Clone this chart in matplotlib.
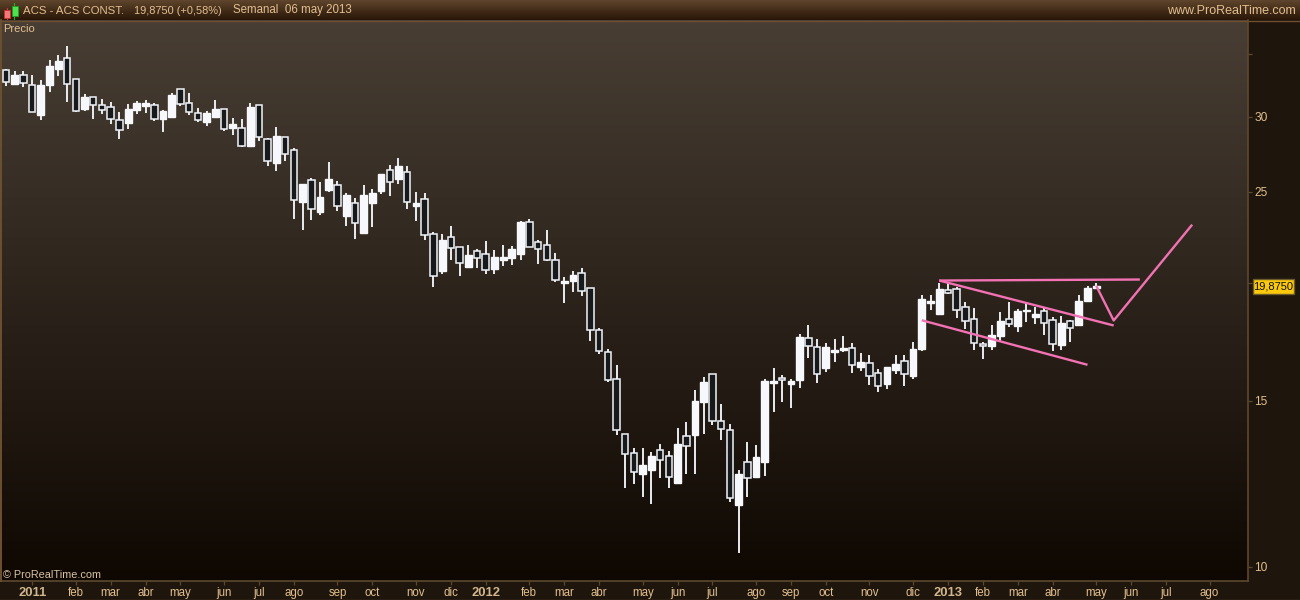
#%%
# ACS weekly candles, ProRealTime look
import numpy as np
import matplotlib
matplotlib.use('Agg')
import matplotlib.pyplot as plt
from matplotlib.patches import Rectangle

plt.rcParams['font.family'] = ['Liberation Sans', 'DejaVu Sans']

#%%
# weekly prices, oldest first
opens = [33.62, 32.51, 33.22, 32.41, 30.16, 32.44, 33.73, 34.61, 32.89, 30.58,
         31.47, 30.85, 30.71, 29.76, 29.56, 30.51, 30.81, 30.85, 29.85, 30.00,
         32.09, 31.00, 30.26, 29.63, 30.00, 30.56, 29.20, 29.18, 27.94, 30.85,
         28.41, 26.81, 28.55, 27.66, 24.38, 25.70, 23.79, 25.10, 25.39, 23.56,
         24.30, 22.60, 24.32, 25.04, 26.34, 25.78, 26.21, 24.15, 24.54, 22.53,
         20.60, 22.37, 21.82, 20.80, 21.61, 21.45, 20.70, 21.16, 21.26, 21.47,
         23.20, 22.10, 21.93, 21.14, 20.00, 20.10, 20.48, 19.75, 17.83, 16.90,
         15.82, 13.83, 13.20, 12.56, 12.68, 13.30, 13.11, 12.28, 13.77, 13.81,
         14.97, 16.01, 14.27, 13.97, 11.64, 12.92, 12.46, 12.93, 15.67, 15.86,
         15.63, 15.79, 17.48, 17.10, 16.26, 16.91, 16.98, 17.06, 16.30, 16.45,
         16.05, 15.63, 16.18, 16.53, 15.94, 17.03, 19.05, 18.55, 19.65, 19.70,
         18.85, 18.31, 17.24, 17.16, 17.58, 18.31, 18.02, 18.67, 18.41, 18.67,
         18.27, 17.20, 18.22, 18.06, 19.14, 19.78]
highs = [33.73, 33.57, 33.57, 33.24, 32.83, 34.47, 34.89, 35.67, 32.89, 31.73,
         31.47, 31.34, 31.11, 30.36, 30.96, 31.18, 31.26, 31.03, 30.51, 31.81,
         32.12, 31.81, 30.66, 30.43, 31.26, 30.58, 29.93, 29.85, 31.03, 30.85,
         28.50, 29.27, 28.55, 27.80, 25.47, 25.83, 25.58, 26.88, 25.66, 24.92,
         24.62, 25.41, 25.16, 26.10, 26.68, 27.14, 26.62, 24.98, 24.92, 22.66,
         22.55, 22.99, 21.82, 21.95, 21.73, 22.17, 21.68, 21.95, 21.90, 23.27,
         23.39, 22.22, 22.77, 21.52, 20.30, 20.60, 20.75, 19.77, 17.93, 17.03,
         16.38, 13.83, 13.38, 13.38, 13.25, 13.51, 13.28, 14.05, 14.25, 15.41,
         15.90, 16.01, 14.89, 14.18, 12.68, 13.57, 13.47, 15.83, 16.26, 15.98,
         15.83, 17.67, 18.06, 17.45, 17.28, 17.45, 17.58, 17.28, 16.87, 16.79,
         16.22, 16.30, 16.79, 16.79, 17.33, 19.43, 19.43, 20.00, 20.00, 19.81,
         19.10, 18.82, 17.33, 18.06, 18.64, 19.10, 18.78, 19.05, 18.87, 18.82,
         18.41, 18.46, 18.28, 19.43, 19.86, 20.00]
lows = [32.36, 32.44, 32.28, 30.38, 29.78, 31.88, 33.15, 31.11, 30.36, 30.43,
        29.85, 30.22, 29.49, 28.43, 29.13, 30.22, 30.29, 29.71, 28.92, 29.93,
        30.81, 30.16, 29.63, 29.34, 30.00, 28.99, 28.71, 27.88, 27.88, 28.29,
        26.61, 26.30, 26.95, 23.39, 22.77, 23.33, 23.62, 24.98, 23.85, 22.99,
        22.27, 22.60, 22.94, 24.86, 24.74, 25.47, 23.97, 23.27, 22.22, 19.81,
        20.45, 21.16, 20.35, 20.75, 20.75, 20.45, 20.45, 20.85, 20.90, 21.16,
        21.84, 20.95, 21.10, 20.05, 19.05, 19.57, 19.38, 17.37, 16.83, 15.71,
        13.81, 12.13, 12.25, 11.87, 11.66, 12.43, 12.13, 12.25, 12.56, 12.56,
        13.85, 14.15, 13.64, 11.72, 10.35, 11.87, 12.43, 12.50, 14.61, 14.97,
        14.75, 15.49, 16.66, 15.67, 16.10, 16.50, 16.91, 16.06, 16.14, 15.60,
        15.34, 15.45, 16.02, 15.56, 15.83, 16.95, 18.73, 18.55, 19.48, 18.37,
        17.88, 16.99, 16.62, 16.99, 17.33, 17.97, 17.75, 18.19, 18.10, 17.62,
        16.95, 16.99, 17.33, 18.06, 19.14, 19.77]
closes = [32.69, 33.24, 32.62, 30.38, 32.44, 33.97, 34.39, 32.53, 30.46, 31.49,
          30.90, 30.53, 29.87, 29.08, 30.58, 31.03, 31.03, 29.85, 30.43, 31.65,
          30.96, 30.38, 29.80, 30.26, 30.58, 29.13, 29.49, 27.97, 30.73, 28.58,
          26.96, 28.64, 27.43, 24.52, 25.47, 23.93, 24.68, 25.78, 24.15, 24.80,
          23.18, 24.80, 24.92, 26.10, 25.61, 26.62, 24.40, 24.32, 22.51, 20.36,
          22.22, 21.80, 21.02, 21.42, 21.28, 20.66, 21.32, 21.32, 21.73, 23.22,
          21.85, 21.75, 21.18, 20.17, 20.10, 20.40, 19.63, 17.85, 16.96, 15.80,
          13.96, 13.19, 12.60, 12.83, 13.12, 12.97, 12.47, 13.51, 13.42, 15.00,
          15.71, 14.29, 13.99, 11.82, 12.56, 12.44, 13.09, 15.75, 15.75, 15.78,
          15.74, 17.54, 17.17, 16.00, 17.11, 16.99, 17.07, 16.38, 16.50, 15.94,
          15.56, 16.30, 16.42, 16.02, 17.03, 19.24, 19.14, 19.72, 19.54, 18.72,
          18.22, 17.27, 17.13, 17.62, 18.24, 18.10, 18.69, 18.73, 18.55, 18.16,
          17.24, 18.15, 17.94, 19.14, 19.77, 19.875]

# x axis: week number of each label
month_weeks = [3, 8, 12, 16, 20, 25, 29, 33, 38, 42, 47, 51, 55, 60, 64, 68, 73, 77,
               81, 86, 90, 94, 99, 104, 108, 112, 116, 120, 125, 129, 133, 138]
month_names = ['2011', 'feb', 'mar', 'abr', 'may', 'jun', 'jul', 'ago', 'sep', 'oct',
               'nov', 'dic', '2012', 'feb', 'mar', 'abr', 'may', 'jun', 'jul', 'ago',
               'sep', 'oct', 'nov', 'dic', '2013', 'feb', 'mar', 'abr', 'may', 'jun',
               'jul', 'ago']
price_ticks = [10, 15, 20, 25, 30, 35]
price_labels = ['10', '15', '', '25', '30', '']

# hand drawn lines: (weeks, prices)
line_flat = ([107, 130], [20.12, 20.17])
line_upper = ([107, 127], [20.12, 18.03])
line_lower = ([105, 124], [18.26, 16.38])
line_move = ([125, 127, 136], [19.86, 18.25, 23.06])

#%%
BG_RIGHT = '#1e150c'
TXT = '#e2bf90'
EDGE = '#5c482f'
PINK = '#f272b4'

fig = plt.figure(figsize=(13, 6), dpi=100, facecolor=BG_RIGHT)

def px_axes(x0, y0, x1, y1, **kw):
    # axes from pixel box, y measured from the top
    return fig.add_axes([x0 / 1300, 1 - y1 / 600, (x1 - x0) / 1300, (y1 - y0) / 600], **kw)

# header band
hd = px_axes(0, 0, 1300, 20)
hd.imshow(np.linspace(0, 1, 20).reshape(-1, 1, 1) * np.array([[[0x2a - 0x5e, 0x17 - 0x44, 0x08 - 0x2b]]]) / 255
          + np.array([[[0x5e, 0x44, 0x2b]]]) / 255, aspect='auto')
hd.axis('off')

# plot background
bg = px_axes(2, 20, 1248, 581)
bg.imshow(np.linspace(0, 1, 256).reshape(-1, 1, 1) * np.array([[[0x0f - 0x48, 0x08 - 0x3e, 0x02 - 0x34]]]) / 255
          + np.array([[[0x48, 0x3e, 0x34]]]) / 255, aspect='auto')
bg.axis('off')

ax = px_axes(2, 20, 1248, 581, facecolor='none')
ax.set_yscale('log')
ax.set_xlim(-0.46, 142.4)
ax.set_ylim(9.664, 38.0)

#%%
# candles
weeks = np.arange(len(closes))
o = np.array(opens)
c = np.array(closes)
up = c >= o
ax.vlines(weeks, lows, highs, color='#f0f4fa', lw=1.35, zorder=2)
body_lo = np.minimum(o, c)
body_hi = np.maximum(o, c)
ax.bar(weeks[up], body_hi[up] - body_lo[up], bottom=body_lo[up], width=0.78,
       color='#f6f8fb', edgecolor='#f6f8fb', lw=1.0, zorder=3)
ax.bar(weeks[~up], body_hi[~up] - body_lo[~up], bottom=body_lo[~up], width=0.74,
       color='#17191b', edgecolor='#f0f4fa', lw=1.1, zorder=3)

# hand drawn lines
for xs, ys in [line_flat, line_upper, line_lower, line_move]:
    ax.plot(xs, ys, color=PINK, lw=1.7, zorder=4, solid_capstyle='butt')

#%%
# axes
for s in ['top', 'left']:
    ax.spines[s].set_visible(False)
for s in ['right', 'bottom']:
    ax.spines[s].set_color(EDGE)
    ax.spines[s].set_linewidth(1.2)

ax.yaxis.tick_right()
ax.set_yticks(price_ticks)
ax.set_yticklabels(price_labels)
ax.minorticks_off()
ax.tick_params(axis='y', which='major', length=3, width=0.9, color=EDGE, labelcolor=TXT,
               labelsize=8.6, pad=1.5)
ax.set_xticks(month_weeks)
ax.set_xticklabels(month_names)
ax.tick_params(axis='x', length=3, width=0.9, color=EDGE, labelcolor=TXT, labelsize=8.3, pad=1)
for lab in ax.get_xticklabels():
    if lab.get_text().startswith('20'):
        lab.set_fontweight('bold')
        lab.set_fontsize(9.4)
        lab.set_color('#d2b78e')

#%%
# texts in pixel positions
def px_text(x, y, s, **kw):
    fig.text(x / 1300, 1 - y / 600, s, va='center', **kw)

px_text(23, 10.5, 'ACS - ACS CONST.', fontsize=8.2, color=TXT)
px_text(134, 10.5, '19,8750 (+0,58%)', fontsize=7.9, color=TXT)
px_text(233, 10.5, 'Semanal  06 may 2013', fontsize=8.3, color=TXT)
px_text(1296, 10.5, 'www.ProRealTime.com', fontsize=9, ha='right', color=TXT)
px_text(3, 28.5, 'Precio', fontsize=8, color=TXT)
px_text(3, 575.5, '© ProRealTime.com', fontsize=7.8, color='#d9c3a3')

# frame lines
fig.add_artist(plt.Line2D([0, 1], [1 - 20.5 / 600] * 2, color='#6e4f30', lw=1))
fig.add_artist(plt.Line2D([0.5 / 1300] * 2, [1 - 581 / 600, 1 - 20 / 600], color='#6e4f30', lw=1.4))
fig.add_artist(plt.Line2D([0, 1], [1 - 599.5 / 600] * 2, color=EDGE, lw=1))

# last price tag
fig.add_artist(Rectangle((1252.5 / 1300, 1 - 293.5 / 600), 41 / 1300, 14.5 / 600, transform=fig.transFigure,
                         facecolor='#fbc90c', edgecolor='#6a5a2c', lw=1, zorder=5))
fig.text(1273 / 1300, 1 - 286.5 / 600, '19,8750', ha='center', va='center', color='#101000', fontsize=8, zorder=6)

# logo icons in the header
fig.add_artist(plt.Line2D([6.5 / 1300] * 2, [1 - 19 / 600, 1 - 8 / 600], color='#e03030', lw=0.8, zorder=5))
fig.add_artist(Rectangle((3.5 / 1300, 1 - 17.5 / 600), 6 / 1300, 7 / 600, transform=fig.transFigure,
                         facecolor='#f47878', edgecolor='#c83030', lw=0.6, zorder=6))
fig.add_artist(plt.Line2D([14.5 / 1300] * 2, [1 - 19 / 600, 1 - 3 / 600], color='#20b020', lw=0.8, zorder=5))
fig.add_artist(Rectangle((11.5 / 1300, 1 - 15.5 / 600), 6 / 1300, 9 / 600, transform=fig.transFigure,
                         facecolor='#50e050', edgecolor='#20a020', lw=0.6, zorder=6))

fig.savefig('out.png', dpi=100, facecolor=fig.get_facecolor())
